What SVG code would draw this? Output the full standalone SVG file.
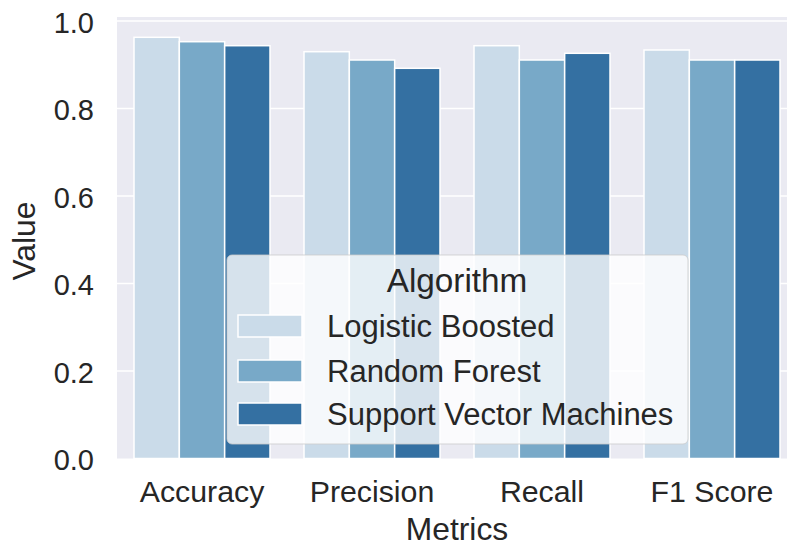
<svg xmlns="http://www.w3.org/2000/svg" width="787" height="546" viewBox="0 0 787 546">
<style>
text{font-family:"Liberation Sans",Arial,sans-serif;fill:#262626}
.tick{font-size:29px}
.xt{font-size:30.3px;text-anchor:middle}
.lab{font-size:31.8px;text-anchor:middle}
.leg{font-size:31px}
.grid{stroke:#ffffff;stroke-width:1.5}
.bar{stroke:#ffffff;stroke-width:1.5}
.c1{fill:#cadbe9}
.c2{fill:#78a9c8}
.c3{fill:#3470a2}
</style>
<rect x="0" y="0" width="787" height="546" fill="#ffffff"/>
<g id="plot">
<rect x="117" y="17" width="680" height="441.5" fill="#eaeaf2"/>
<g id="gridlines">
<line class="grid" x1="117" y1="21" x2="797" y2="21"/>
<line class="grid" x1="117" y1="108.5" x2="797" y2="108.5"/>
<line class="grid" x1="117" y1="196" x2="797" y2="196"/>
<line class="grid" x1="117" y1="283.5" x2="797" y2="283.5"/>
<line class="grid" x1="117" y1="371" x2="797" y2="371"/>
</g>
</g>
<g id="bars">
<g id="accuracy">
<rect class="bar c1" x="134" y="37.3" width="45.33" height="421.2"/>
<rect class="bar c2" x="179.33" y="41.7" width="45.33" height="416.8"/>
<rect class="bar c3" x="224.67" y="45.7" width="45.33" height="412.8"/>
</g>
<g id="precision">
<rect class="bar c1" x="304" y="51.7" width="45.33" height="406.8"/>
<rect class="bar c2" x="349.33" y="60" width="45.33" height="398.5"/>
<rect class="bar c3" x="394.67" y="68.3" width="45.33" height="390.2"/>
</g>
<g id="recall">
<rect class="bar c1" x="474" y="45.7" width="45.33" height="412.8"/>
<rect class="bar c2" x="519.33" y="60" width="45.33" height="398.5"/>
<rect class="bar c3" x="564.67" y="53.3" width="45.33" height="405.2"/>
</g>
<g id="f1score">
<rect class="bar c1" x="644" y="50" width="45.33" height="408.5"/>
<rect class="bar c2" x="689.33" y="60" width="45.33" height="398.5"/>
<rect class="bar c3" x="734.67" y="60" width="45.33" height="398.5"/>
</g>
</g>
<g id="yticks" text-anchor="end">
<text class="tick" x="94" y="33">1.0</text>
<text class="tick" x="94" y="120">0.8</text>
<text class="tick" x="94" y="207.5">0.6</text>
<text class="tick" x="94" y="295">0.4</text>
<text class="tick" x="94" y="382.5">0.2</text>
<text class="tick" x="94" y="470">0.0</text>
</g>
<g id="xticks">
<text class="xt" x="202" y="502">Accuracy</text>
<text class="xt" x="372" y="502">Precision</text>
<text class="xt" x="542" y="502">Recall</text>
<text class="xt" x="712" y="502">F1 Score</text>
</g>
<text class="lab" x="457" y="540">Metrics</text>
<text class="lab" transform="translate(35,241) rotate(-90)">Value</text>
<g id="legend">
<rect x="227" y="255" width="461" height="189" rx="5" fill="#ffffff" fill-opacity="0.8" stroke="#cccccc" stroke-opacity="0.8" stroke-width="1"/>
<text x="457" y="292" font-size="33.3" text-anchor="middle">Algorithm</text>
<rect class="bar c1" x="238" y="315" width="64" height="22"/>
<rect class="bar c2" x="238" y="360" width="64" height="22"/>
<rect class="bar c3" x="238" y="403" width="64" height="22"/>
<text class="leg" x="327" y="337">Logistic Boosted</text>
<text class="leg" x="327" y="382">Random Forest</text>
<text class="leg" x="327" y="424.5">Support Vector Machines</text>
</g>
</svg>
